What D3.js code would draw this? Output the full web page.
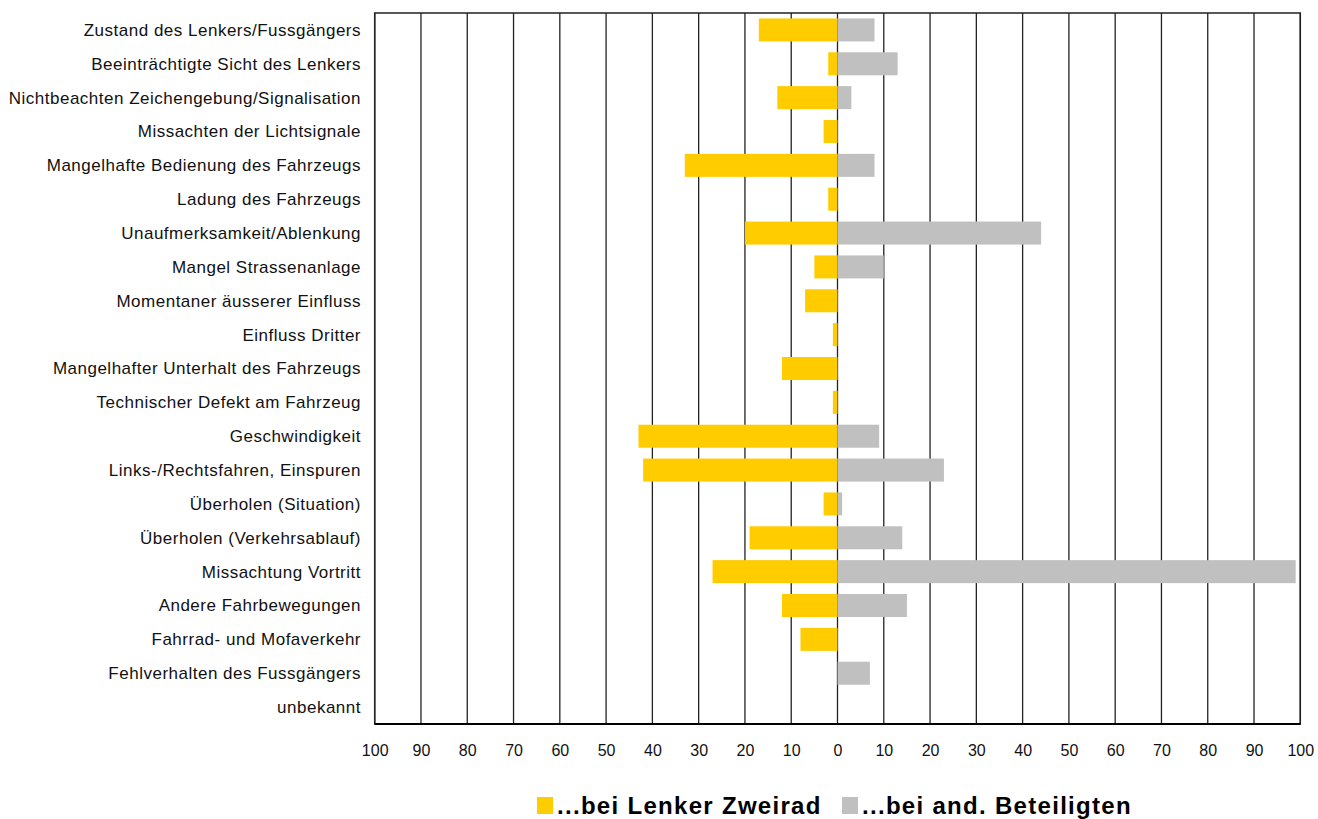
<!DOCTYPE html>
<html>
<head>
<meta charset="utf-8">
<script src="https://cdn.jsdelivr.net/npm/d3@7"></script>
<style>
  body { margin: 0; background: #fff; }
  text { font-family: "Liberation Sans", Arial, Helvetica, sans-serif; }
</style>
</head>
<body>
<svg id="chart" width="1318" height="819"></svg>
<script>
// Data
var categories = [
  "Zustand des Lenkers/Fussgängers",
  "Beeinträchtigte Sicht des Lenkers",
  "Nichtbeachten Zeichengebung/Signalisation",
  "Missachten der Lichtsignale",
  "Mangelhafte Bedienung des Fahrzeugs",
  "Ladung des Fahrzeugs",
  "Unaufmerksamkeit/Ablenkung",
  "Mangel Strassenanlage",
  "Momentaner äusserer Einfluss",
  "Einfluss Dritter",
  "Mangelhafter Unterhalt des Fahrzeugs",
  "Technischer Defekt am Fahrzeug",
  "Geschwindigkeit",
  "Links-/Rechtsfahren, Einspuren",
  "Überholen (Situation)",
  "Überholen (Verkehrsablauf)",
  "Missachtung Vortritt",
  "Andere Fahrbewegungen",
  "Fahrrad- und Mofaverkehr",
  "Fehlverhalten des Fussgängers",
  "unbekannt"
];
var lenkerZweirad = [17, 2, 13, 3, 33, 2, 20, 5, 7, 1, 12, 1, 43, 42, 3, 19, 27, 12, 8, 0, 0];
var andereBeteiligte = [8, 13, 3, 0, 8, 0, 44, 10, 0, 0, 0, 0, 9, 23, 1, 14, 99, 15, 0, 7, 0];
var tickValues = [-100, -90, -80, -70, -60, -50, -40, -30, -20, -10, 0, 10, 20, 30, 40, 50, 60, 70, 80, 90, 100];
var seriesNames = ["...bei Lenker Zweirad", "...bei and. Beteiligten"];
var seriesColors = ["#FFCC00", "#C0C0C0"];

var svg = d3.select("#chart");

var plot = { left: 374.7, right: 1300.3, top: 13, bottom: 724 };

var x = d3.scaleLinear()
  .domain([-100, 100])
  .range([plot.left, plot.right]);

var y = d3.scaleBand()
  .domain(categories)
  .range([plot.top, plot.bottom])
  .paddingInner(0.32)
  .paddingOuter(0.16);

// vertical grid lines
svg.append("g")
  .selectAll("line")
  .data(tickValues)
  .enter()
  .append("line")
  .attr("x1", d => x(d))
  .attr("x2", d => x(d))
  .attr("y1", plot.top)
  .attr("y2", plot.bottom)
  .attr("stroke", "#222")
  .attr("stroke-width", 1.3);

// bars
var rows = categories.map((c, i) => ({ cat: c, left: lenkerZweirad[i], right: andereBeteiligte[i] }));

svg.append("g")
  .selectAll("rect")
  .data(rows)
  .enter()
  .append("rect")
  .attr("x", d => x(-d.left))
  .attr("y", d => y(d.cat))
  .attr("width", d => x(0) - x(-d.left))
  .attr("height", y.bandwidth())
  .attr("fill", seriesColors[0]);

svg.append("g")
  .selectAll("rect")
  .data(rows)
  .enter()
  .append("rect")
  .attr("x", x(0))
  .attr("y", d => y(d.cat))
  .attr("width", d => x(d.right) - x(0))
  .attr("height", y.bandwidth())
  .attr("fill", seriesColors[1]);

// frame
svg.append("rect")
  .attr("x", plot.left)
  .attr("y", plot.top)
  .attr("width", plot.right - plot.left)
  .attr("height", plot.bottom - plot.top)
  .attr("fill", "none")
  .attr("stroke", "#222")
  .attr("stroke-width", 1.5);

svg.append("line")
  .attr("x1", plot.left)
  .attr("x2", plot.right)
  .attr("y1", plot.bottom)
  .attr("y2", plot.bottom)
  .attr("stroke", "#000")
  .attr("stroke-width", 2);

// x axis labels
var xAxis = d3.axisBottom(x)
  .tickValues(tickValues)
  .tickSize(0)
  .tickPadding(0)
  .tickFormat(d => Math.abs(d));

var xg = svg.append("g")
  .attr("transform", `translate(0,${plot.bottom})`)
  .call(xAxis);
xg.select(".domain").remove();
xg.selectAll("text")
  .attr("y", 32)
  .attr("dy", 0)
  .attr("fill", "#111")
  .style("font-size", "16px")
  .style("font-family", "'Liberation Sans', Arial, sans-serif");

// category labels
var yAxis = d3.axisLeft(y).tickSize(0).tickPadding(0);
var yg = svg.append("g")
  .attr("transform", `translate(361,0)`)
  .call(yAxis);
yg.select(".domain").remove();
yg.selectAll("text")
  .attr("fill", "#111")
  .attr("dy", "0.35em")
  .style("font-size", "17px")
  .style("letter-spacing", "0.5px")
  .style("font-family", "'Liberation Sans', Arial, sans-serif");

// legend
var legendX = [537, 842];
var legend = svg.append("g");
seriesNames.forEach((name, i) => {
  legend.append("rect")
    .attr("x", legendX[i])
    .attr("y", 797)
    .attr("width", 16)
    .attr("height", 17)
    .attr("fill", seriesColors[i]);
  legend.append("text")
    .attr("x", legendX[i] + 20)
    .attr("y", 814)
    .style("font-size", "24px")
    .style("font-weight", "bold")
    .style("letter-spacing", "1.3px")
    .attr("fill", "#000")
    .text(name);
});
</script>
</body>
</html>
